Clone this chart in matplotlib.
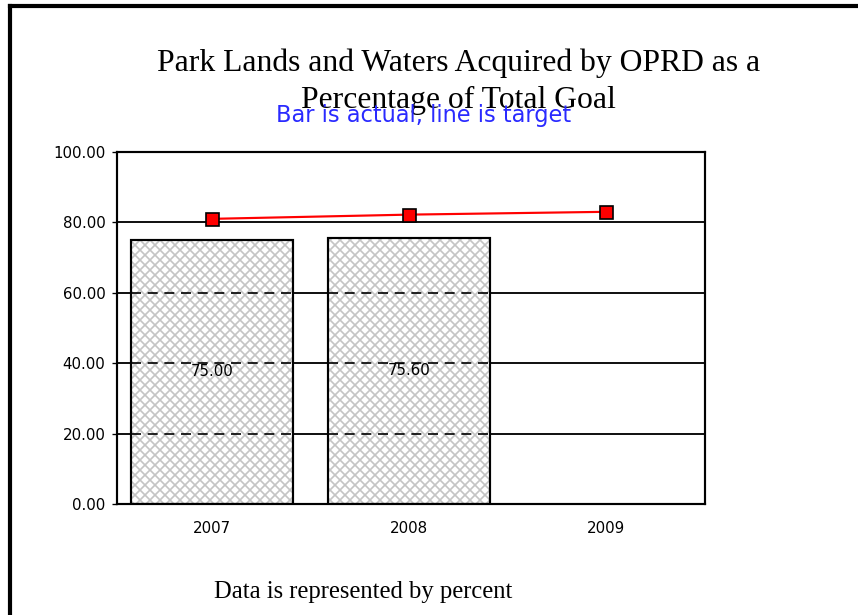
import matplotlib
matplotlib.use("Agg")
import matplotlib.pyplot as plt
from matplotlib.lines import Line2D

years = ["2007", "2008", "2009"]
actual = [75.00, 75.60, None]
target = [81.0, 82.2, 83.0]
yticks = [0, 20, 40, 60, 80, 100]

fig = plt.figure(figsize=(7.15, 5.125), dpi=120)
ax = fig.add_axes([0.1364, 0.1805, 0.6853, 0.5724])

x = list(range(len(years)))
bx = [i for i, v in enumerate(actual) if v is not None]
bv = [v for v in actual if v is not None]

# gridlines (solid outside the bars)
for t in yticks[1:-1]:
    ax.axhline(t, color="black", lw=1.1, zorder=1)

# hatched bars: grey hatch first, black outline on top
ax.bar(bx, bv, width=0.82, color="white", edgecolor="#c4c4c4", hatch="xxxx",
       lw=0, zorder=2)
ax.bar(bx, bv, width=0.82, facecolor="none", edgecolor="black", lw=1.3, zorder=3)

# grid shows through the bars as dashes
for i, v in zip(bx, bv):
    for t in yticks[1:-1]:
        if t < v:
            ax.hlines(t, i - 0.41, i + 0.41, colors="black", lw=1.0,
                      linestyles=(0, (6, 4)), zorder=3)
    ax.text(i, v / 2, "%.2f" % v, ha="center", va="center", fontsize=9,
            family="DejaVu Sans", zorder=4)

ax.plot(x, target, color="red", lw=1.3, marker="s", markersize=7.8,
        markerfacecolor="red", markeredgecolor="black", markeredgewidth=1,
        zorder=5)

ax.set_xlim(-0.48, 2.5)
ax.set_ylim(0, 100)
ax.set_xticks(x)
ax.set_xticklabels(years, fontsize=9)
ax.set_yticks(yticks)
ax.set_yticklabels(["%.2f" % t for t in yticks], fontsize=9)
ax.tick_params(axis="x", length=0, pad=10)
ax.tick_params(axis="y", length=3, pad=4)
for s in ax.spines.values():
    s.set_linewidth(1.3)

fig.text(0.534, 0.897, "Park Lands and Waters Acquired by OPRD as a",
         ha="center", va="center", family="Liberation Serif", fontsize=19)
fig.text(0.534, 0.836, "Percentage of Total Goal",
         ha="center", va="center", family="Liberation Serif", fontsize=19)
fig.text(0.494, 0.801, "Bar is actual, line is target", ha="center",
         va="baseline", family="DejaVu Sans", fontsize=13.5, color="#2a2aff")
fig.text(0.423, 0.037, "Data is represented by percent", ha="center",
         va="center", family="Liberation Serif", fontsize=14.8)

# page frame (left and top edges)
fig.add_artist(Line2D([0.0111, 0.0111], [0.0, 0.991], color="black", lw=2.5,
                      transform=fig.transFigure))
fig.add_artist(Line2D([0.0111, 1.0], [0.991, 0.991], color="black", lw=2.5,
                      transform=fig.transFigure))

fig.savefig("out.png", dpi=120)
